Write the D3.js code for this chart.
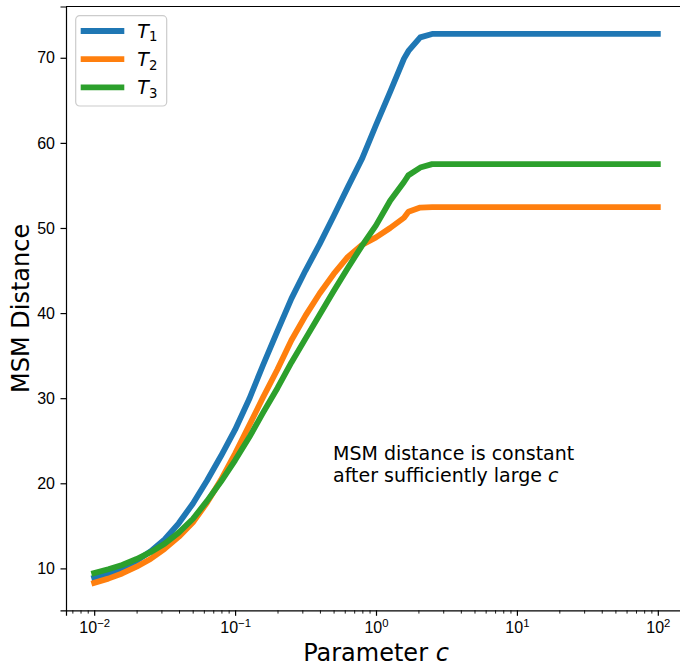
<!DOCTYPE html>
<html lang="en">
<head>
    <meta charset="UTF-8">
    <title>MSM Distance vs Parameter c</title>
    <script src="https://d3js.org/d3.v7.min.js"></script>
    <style>
        body { margin: 0; background: #fff; }
        svg { display: block; font-family: "DejaVu Sans", sans-serif; }
    </style>
</head>
<body>
    <svg width="680" height="669"></svg>
    <script>
// Parameter c values (x axis, log scale)
const cValues = [0.01, 0.0126, 0.0158, 0.02, 0.0251, 0.0316, 0.0398, 0.0501, 0.0631, 0.0794,
                 0.1, 0.126, 0.158, 0.2, 0.251, 0.316, 0.398, 0.501, 0.631, 0.794,
                 1, 1.26, 1.58, 1.7, 2.06, 2.5, 100];

// MSM distance for each series
const t1 = [8.9, 9.35, 10.0, 10.9, 12.0, 13.4, 15.3, 17.6, 20.3, 23.2,
            26.3, 29.9, 33.9, 37.9, 41.7, 45.0, 48.1, 51.4, 54.8, 58.1,
            62.1, 66.0, 69.9, 70.8, 72.4, 72.8, 72.8];
const t2 = [8.3, 8.8, 9.4, 10.2, 11.1, 12.3, 13.7, 15.4, 17.7, 20.4,
            23.5, 26.8, 30.1, 33.4, 36.8, 39.7, 42.3, 44.6, 46.6, 48.0,
            48.9, 50.0, 51.2, 51.9, 52.4, 52.45, 52.45];
const t3 = [9.45, 9.9, 10.4, 11.1, 11.9, 12.9, 14.2, 15.8, 17.9, 20.2,
            22.7, 25.4, 28.3, 31.2, 34.2, 37.0, 39.8, 42.6, 45.3, 47.9,
            50.3, 53.2, 55.4, 56.2, 57.1, 57.5, 57.5];

const seriesNames = ['1', '2', '3'];
const colors = ['#1f77b4', '#ff7f0e', '#2ca02c'];

const xTicks = [1e-2, 1e-1, 1e0, 1e1, 1e2];
const xTickExp = ['\u22122', '\u22121', '0', '1', '2'];
const yTicks = [10, 20, 30, 40, 50, 60, 70];

// layout (right spine falls just outside the picture, as in the original)
const margin = { top: 6.5, left: 66 },
      width = 620,
      height = 603.8;

const svg = d3.select('svg')
  .append('g')
    .attr('transform', `translate(${margin.left}, ${margin.top})`);

const all = t1.concat(t2, t3);
const lo = d3.min(all), hi = d3.max(all), pad = (hi - lo) * 0.05;

const x = d3.scaleLog()
    .domain([Math.pow(10, -2.2), Math.pow(10, 2.2)])
    .range([0, width]);

const y = d3.scaleLinear()
    .domain([lo - pad, hi + pad])
    .range([height, 0]);

// minor ticks on log axis
const minor = [];
for (let e = -3; e <= 2; e++) {
  for (let k = 2; k <= 9; k++) {
    const v = k * Math.pow(10, e);
    if (v >= x.domain()[0] && v <= x.domain()[1]) minor.push(v);
  }
}

svg.append('g')
    .attr('class', 'x-minor')
    .attr('transform', `translate(0, ${height})`)
    .call(d3.axisBottom(x).tickValues(minor).tickSize(3.3).tickFormat(''))
    .call(g => g.select('.domain').remove())
    .call(g => g.selectAll('line').attr('stroke', '#000').attr('stroke-width', 0.9));

const xAxis = svg.append('g')
    .attr('class', 'x-axis')
    .attr('transform', `translate(0, ${height})`)
    .call(d3.axisBottom(x).tickValues(xTicks).tickSize(5.5).tickPadding(5.5).tickFormat(''));

xAxis.selectAll('.tick').each(function(d, i) {
  const t = d3.select(this).append('text')
      .attr('fill', '#000')
      .attr('y', 22.8)
      .attr('text-anchor', 'middle')
      .style('font-size', '16px');
  t.append('tspan').text('10');
  t.append('tspan').attr('dy', -6.5).style('font-size', '11.3px').text(xTickExp[i]);
});

const yAxis = svg.append('g')
    .attr('class', 'y-axis')
    .call(d3.axisLeft(y).tickValues(yTicks).tickSize(5.5).tickPadding(5.5));

yAxis.selectAll('text').style('font-size', '16px').attr('fill', '#000');

svg.selectAll('.domain').attr('stroke', '#000').attr('stroke-width', 1.2);
svg.selectAll('.tick line').attr('stroke', '#000');
svg.selectAll('.x-axis .tick line, .y-axis .tick line').attr('stroke-width', 1.2);

// top and right spines
svg.append('line').attr('x1', 0).attr('x2', width).attr('y1', 0).attr('y2', 0)
    .attr('stroke', '#000').attr('stroke-width', 1.2);
svg.append('line').attr('x1', width).attr('x2', width).attr('y1', 0).attr('y2', height)
    .attr('stroke', '#000').attr('stroke-width', 1.2);

// lines (plain polylines, like the original)
const line = d3.line()
    .x((d, i) => x(cValues[i]))
    .y(d => y(d));

[t1, t2, t3].forEach((s, i) => {
  svg.append('path')
      .datum(s)
      .attr('fill', 'none')
      .attr('stroke', colors[i])
      .attr('stroke-width', 5.8)
      .attr('stroke-linecap', 'square')
      .attr('stroke-linejoin', 'round')
      .attr('d', line);
});

// annotation
const note = svg.append('text')
    .attr('x', 267)
    .attr('y', 453.5)
    .style('font-size', '19px')
    .attr('fill', '#000');
note.append('tspan').text('MSM distance is constant');
const l2 = svg.append('text')
    .attr('x', 267)
    .attr('y', 475.8)
    .style('font-size', '19px')
    .attr('fill', '#000');
l2.append('tspan').text('after sufficiently large ');
l2.append('tspan').style('font-style', 'italic').text('c');

// axis labels
const xl = svg.append('text')
    .attr('x', 310)
    .attr('y', height + 51)
    .attr('text-anchor', 'middle')
    .style('font-size', '24px')
    .attr('fill', '#000');
xl.append('tspan').text('Parameter ');
xl.append('tspan').style('font-style', 'italic').text('c');

svg.append('text')
    .attr('transform', `translate(-37, ${height / 2}) rotate(-90)`)
    .attr('text-anchor', 'middle')
    .style('font-size', '24px')
    .attr('fill', '#000')
    .text('MSM Distance');

// legend
const legend = svg.append('g').attr('transform', 'translate(9.7, 9.2)');
legend.append('rect')
    .attr('width', 91).attr('height', 90.3)
    .attr('rx', 4)
    .attr('fill', '#fff').attr('fill-opacity', 0.8)
    .attr('stroke', '#ccc').attr('stroke-width', 1.2);

seriesNames.forEach((n, i) => {
  const gy = 15.3 + i * 28.2;
  legend.append('line')
      .attr('x1', 5).attr('x2', 48.6)
      .attr('y1', gy).attr('y2', gy)
      .attr('stroke', colors[i]).attr('stroke-width', 5.8);
  const t = legend.append('text')
      .attr('x', 61.6).attr('y', gy + 6.8)
      .style('font-size', '19px')
      .attr('fill', '#000');
  t.append('tspan').style('font-style', 'italic').text('T');
  t.append('tspan').attr('dy', 3.6).style('font-size', '13.3px').text(n);
});
    </script>
</body>
</html>
